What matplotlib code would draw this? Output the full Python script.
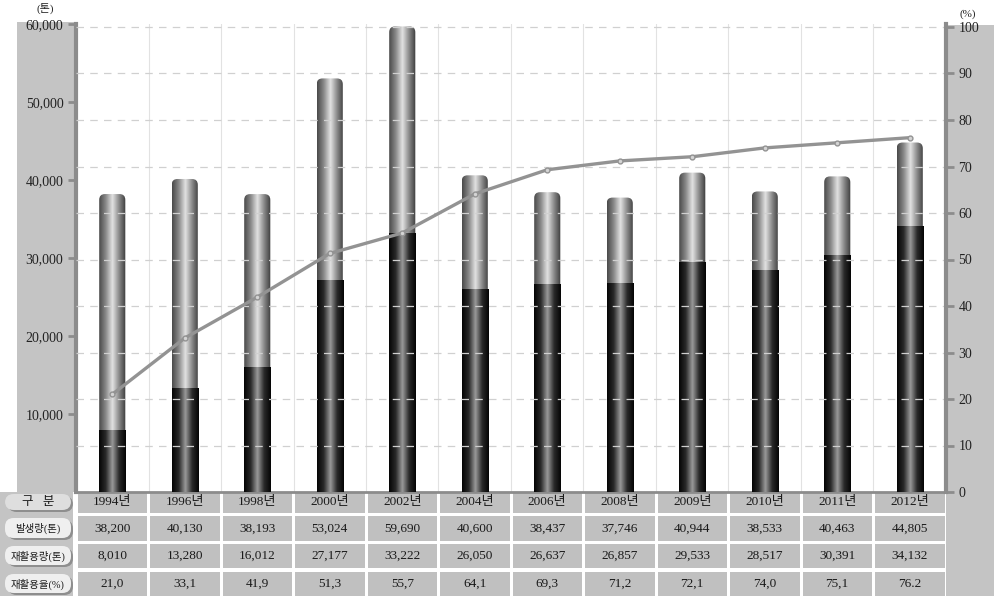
import numpy as np
import matplotlib
matplotlib.use("Agg")
import matplotlib.pyplot as plt
from matplotlib.patches import FancyBboxPatch, Rectangle
from matplotlib.colors import LinearSegmentedColormap

years = ["1994년", "1996년", "1998년", "2000년", "2002년", "2004년", "2006년",
         "2008년", "2009년", "2010년", "2011년", "2012년"]
generated = [38200, 40130, 38193, 53024, 59690, 40600, 38437, 37746, 40944, 38533, 40463, 44805]
recycled = [8010, 13280, 16012, 27177, 33222, 26050, 26637, 26857, 29533, 28517, 30391, 34132]
rate = [21.0, 33.1, 41.9, 51.3, 55.7, 64.1, 69.3, 71.2, 72.1, 74.0, 75.1, 76.2]

gen_txt = ["38,200", "40,130", "38,193", "53,024", "59,690", "40,600", "38,437",
           "37,746", "40,944", "38,533", "40,463", "44,805"]
rec_txt = ["8,010", "13,280", "16,012", "27,177", "33,222", "26,050", "26,637",
           "26,857", "29,533", "28,517", "30,391", "34,132"]
rate_txt = ["21,0", "33,1", "41,9", "51,3", "55,7", "64,1", "69,3", "71,2",
            "72,1", "74,0", "75,1", "76.2"]
row_labels = ["구   분", "발생량(톤)", "재활용량(톤)", "재활용율(%)"]

FONT = ["Liberation Serif", "Noto Sans CJK KR", "DejaVu Sans"]
plt.rcParams["font.family"] = FONT

W, H = 994, 596
fig = plt.figure(figsize=(W / 100, H / 100), dpi=100)
fig.patch.set_facecolor("white")

PANEL = "#c4c4c4"
SPINE = "#8c8c8c"

# grey side panels (figure pixel coords)
bg = fig.add_axes([0, 0, 1, 1], zorder=-5)
bg.set_xlim(0, W)
bg.set_ylim(H, 0)
bg.axis("off")
bg.add_patch(Rectangle((17, 22), 59, 470, color=PANEL, lw=0))
bg.add_patch(Rectangle((946, 25), 48, 571, color=PANEL, lw=0))

x0, x1, ytop, ybot = 76, 946, 24, 492
ax = fig.add_axes([x0 / W, 1 - ybot / H, (x1 - x0) / W, (ybot - ytop) / H])
ax.set_facecolor("none")
n = len(years)
x = np.arange(n)

light = LinearSegmentedColormap.from_list("l", ["#4a4a4a", "#8a8a8a", "#e2e2e2", "#8a8a8a", "#3c3c3c"])
dark = LinearSegmentedColormap.from_list("d", ["#050505", "#2a2a2a", "#9a9a9a", "#2a2a2a", "#050505"])
grad = np.linspace(0, 1, 64).reshape(1, -1)

bw = 0.36
px_per_x = (x1 - x0) / n
px_per_y = (ybot - ytop) / 60000
aspect = px_per_x / px_per_y
for xi, g, r in zip(x, generated, recycled):
    p1 = FancyBboxPatch((xi - bw / 2, 0), bw, g, boxstyle="round,pad=0,rounding_size=0.08",
                        mutation_aspect=aspect, lw=0, fc="none", zorder=2)
    ax.add_patch(p1)
    im = ax.imshow(grad, cmap=light, extent=[xi - bw / 2, xi + bw / 2, 0, g],
                   aspect="auto", zorder=2)
    im.set_clip_path(p1)
    p2 = Rectangle((xi - bw / 2, 0), bw, r, lw=0, fc="none", zorder=3)
    ax.add_patch(p2)
    im2 = ax.imshow(grad, cmap=dark, extent=[xi - bw / 2, xi + bw / 2, 0, r],
                    aspect="auto", zorder=3)
    im2.set_clip_path(p2)

ax.set_xlim(-0.5, n - 0.5)
ax.set_ylim(0, 60000)
for b in np.arange(0.5, n - 0.5, 1):
    ax.axvline(b, color="#e2e2e2", lw=0.8, zorder=0)

ax.set_yticks([10000, 20000, 30000, 40000, 50000, 60000])
ax.set_yticklabels(["10,000", "20,000", "30,000", "40,000", "50,000", "60,000"])
ax.set_xticks([])
ax.tick_params(axis="y", direction="out", length=6, width=2, color=SPINE,
               labelsize=10, labelcolor="#222222", pad=3)
for s in ["top", "right"]:
    ax.spines[s].set_visible(False)
ax.spines["left"].set_color(SPINE)
ax.spines["left"].set_linewidth(3)
ax.spines["bottom"].set_color(SPINE)
ax.spines["bottom"].set_linewidth(2)

ax2 = ax.twinx()
ax2.set_ylim(0, 100 * (ybot - ytop) / (ybot - 27))
ax2.set_yticks(range(0, 101, 10))
ax2.tick_params(axis="y", direction="out", length=6, width=2, color=SPINE,
                labelsize=10, labelcolor="#222222", pad=3)
for s in ["top", "left", "bottom"]:
    ax2.spines[s].set_visible(False)
ax2.spines["right"].set_color(SPINE)
ax2.spines["right"].set_linewidth(3)
for v in range(10, 101, 10):
    ax2.axhline(v, color="#d0d0d0", lw=0.9, ls=(0, (6, 5)), zorder=0)
ax2.plot(x, rate, color="#939393", lw=2.4, marker="o", ms=3.5, mfc="#d4d4d4",
         mec="#939393", zorder=5)
ax.set_zorder(1)
ax2.set_zorder(2)
ax2.set_facecolor("none")

fig.text(45 / W, 1 - 8 / H, "(톤)", ha="center", va="center", fontsize=8, color="#222222")
fig.text(968 / W, 1 - 14 / H, "(%)", ha="center", va="center", fontsize=8, color="#222222")

# table under the chart
tb = fig.add_axes([0, 0, 1, (H - ybot) / H])
tb.set_xlim(-0.5 - x0 / px_per_x, n - 0.5 + (W - x1) / px_per_x)
tb.set_ylim(H - ybot, 0)
tb.axis("off")
rows = [(0, 21), (24, 49), (52, 76), (80, 104)]
cells = [years, gen_txt, rec_txt, rate_txt]
gap = 1.5 / px_per_x
tb.add_patch(Rectangle((-0.5 - x0 / px_per_x, 0), (x0 - 3) / px_per_x, 104, color=PANEL, lw=0))
for (ya, yb), vals in zip(rows, cells):
    for xi, v in zip(x, vals):
        tb.add_patch(Rectangle((xi - 0.5 + gap, ya), 1 - 2 * gap, yb - ya, color="#c0c0c0", lw=0))
        tb.text(xi, (ya + yb) / 2, v, ha="center", va="center", fontsize=9.5, color="#1a1a1a")


def px2x(p):
    return -0.5 + (p - x0) / px_per_x


for i, ((ya, yb), lab) in enumerate(zip(rows, row_labels)):
    fc = "#dedede" if i == 0 else "#efefef"
    sh = FancyBboxPatch((px2x(8), ya + 4), px2x(73) - px2x(8), yb - ya - 5,
                        boxstyle="round,pad=0,rounding_size=0.12", mutation_aspect=px_per_x,
                        fc="#8e8e8e", lw=0)
    tb.add_patch(sh)
    pill = FancyBboxPatch((px2x(5), ya + 2), px2x(71) - px2x(5), yb - ya - 5,
                          boxstyle="round,pad=0,rounding_size=0.12", mutation_aspect=px_per_x,
                          fc=fc, lw=0)
    tb.add_patch(pill)
    tb.text(px2x(38), (ya + yb) / 2, lab, ha="center", va="center",
            fontsize=9 if i == 0 else 7.5, color="#1a1a1a")

fig.savefig("out.png", dpi=100)
